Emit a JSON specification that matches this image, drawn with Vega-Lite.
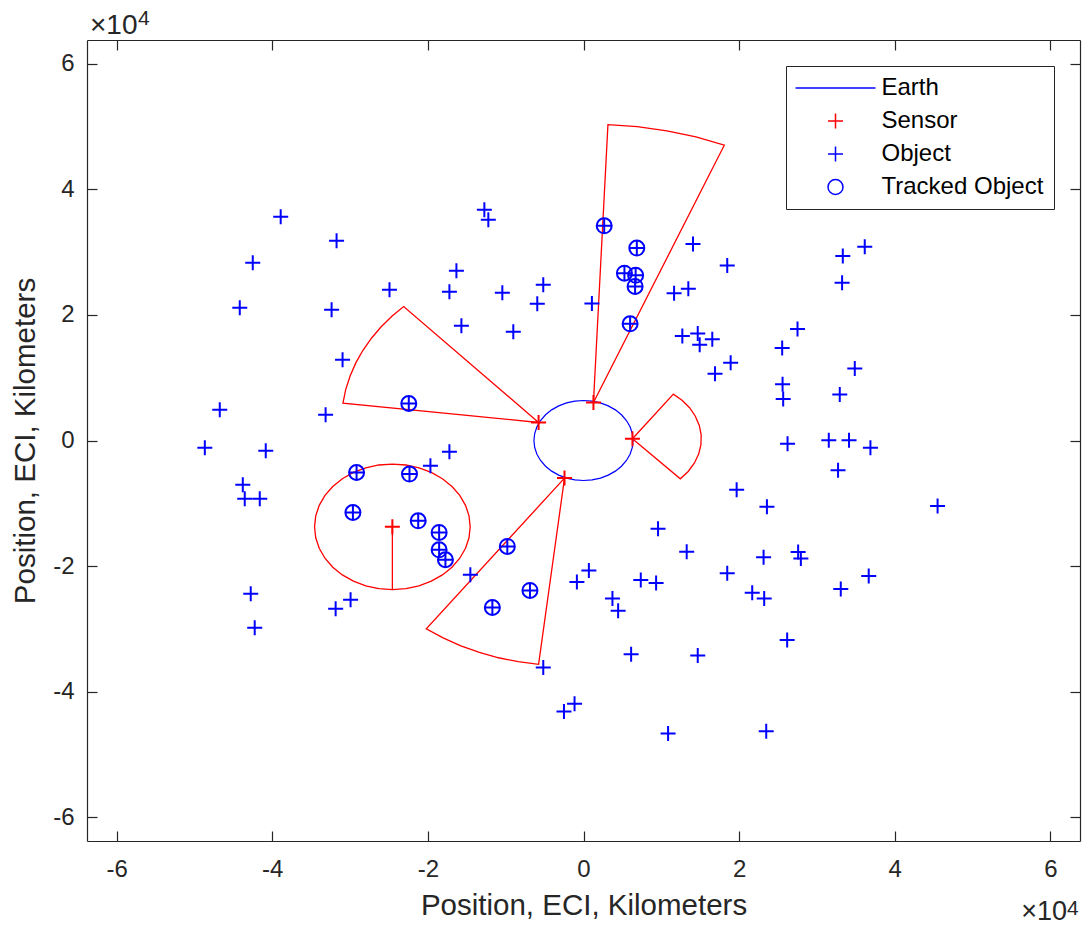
{
  "$schema": "https://vega.github.io/schema/vega-lite/v6.json",
  "width": 993,
  "height": 801,
  "autosize": "none",
  "padding": {"left": 87, "top": 40, "right": 6, "bottom": 85},
  "background": "white",
  "config": {
    "view": {"stroke": null},
    "font": "Liberation Sans",
    "axis": {
      "grid": false,
      "domainColor": "#262626",
      "domainWidth": 1.2,
      "tickColor": "#262626",
      "tickWidth": 1.2,
      "tickSize": -10,
      "labelColor": "#262626",
      "titleColor": "#262626",
      "labelFont": "Liberation Sans",
      "titleFont": "Liberation Sans",
      "labelFontSize": 24,
      "titleFontSize": 29.5,
      "titleFontWeight": "normal",
      "labelExpr": "datum.value < 0 ? '-' + abs(datum.value) : '' + datum.value"
    },
    "legend": {
      "orient": "top-right",
      "offset": 26,
      "padding": 10,
      "strokeColor": "#262626",
      "fillColor": "white",
      "labelFont": "Liberation Sans",
      "labelFontSize": 24,
      "labelColor": "black",
      "labelLimit": 400,
      "symbolSize": 225,
      "symbolOffset": 27.5,
      "labelOffset": 34,
      "rowPadding": 9,
      "symbolStrokeWidth": 1.5,
      "cornerRadius": 0
    }
  },
  "datasets": {
    "shapes": [
      {"g":"Earth","i":0,"x":0.637,"y":0},{"g":"Earth","i":1,"x":0.6273,"y":0.1106},{"g":"Earth","i":2,"x":0.5986,"y":0.2179},{"g":"Earth","i":3,"x":0.5517,"y":0.3185},{"g":"Earth","i":4,"x":0.4879,"y":0.4095},{"g":"Earth","i":5,"x":0.4095,"y":0.4879},{"g":"Earth","i":6,"x":0.3185,"y":0.5517},{"g":"Earth","i":7,"x":0.2179,"y":0.5986},{"g":"Earth","i":8,"x":0.1106,"y":0.6273},{"g":"Earth","i":9,"x":0,"y":0.637},{"g":"Earth","i":10,"x":-0.1106,"y":0.6273},{"g":"Earth","i":11,"x":-0.2179,"y":0.5986},{"g":"Earth","i":12,"x":-0.3185,"y":0.5517},{"g":"Earth","i":13,"x":-0.4095,"y":0.4879},{"g":"Earth","i":14,"x":-0.4879,"y":0.4095},{"g":"Earth","i":15,"x":-0.5517,"y":0.3185},{"g":"Earth","i":16,"x":-0.5986,"y":0.2179},{"g":"Earth","i":17,"x":-0.6273,"y":0.1106},{"g":"Earth","i":18,"x":-0.637,"y":0},{"g":"Earth","i":19,"x":-0.6273,"y":-0.1106},{"g":"Earth","i":20,"x":-0.5986,"y":-0.2179},{"g":"Earth","i":21,"x":-0.5517,"y":-0.3185},{"g":"Earth","i":22,"x":-0.4879,"y":-0.4095},{"g":"Earth","i":23,"x":-0.4095,"y":-0.4879},{"g":"Earth","i":24,"x":-0.3185,"y":-0.5517},{"g":"Earth","i":25,"x":-0.2179,"y":-0.5986},{"g":"Earth","i":26,"x":-0.1106,"y":-0.6273},{"g":"Earth","i":27,"x":0,"y":-0.637},{"g":"Earth","i":28,"x":0.1106,"y":-0.6273},{"g":"Earth","i":29,"x":0.2179,"y":-0.5986},{"g":"Earth","i":30,"x":0.3185,"y":-0.5517},{"g":"Earth","i":31,"x":0.4095,"y":-0.4879},{"g":"Earth","i":32,"x":0.4879,"y":-0.4095},{"g":"Earth","i":33,"x":0.5517,"y":-0.3185},{"g":"Earth","i":34,"x":0.5986,"y":-0.2179},{"g":"Earth","i":35,"x":0.6273,"y":-0.1106},{"g":"Earth","i":36,"x":0.637,"y":0},

      {"g":"S1","i":0,"x":-0.577,"y":0.287},{"g":"S1","i":1,"x":-2.311,"y":2.134},{"g":"S1","i":2,"x":-2.459,"y":1.982},{"g":"S1","i":3,"x":-2.6,"y":1.811},{"g":"S1","i":4,"x":-2.725,"y":1.629},{"g":"S1","i":5,"x":-2.834,"y":1.437},{"g":"S1","i":6,"x":-2.926,"y":1.236},{"g":"S1","i":7,"x":-2.999,"y":1.028},{"g":"S1","i":8,"x":-3.055,"y":0.814},{"g":"S1","i":9,"x":-3.091,"y":0.596},{"g":"S1","i":10,"x":-0.577,"y":0.287},

      {"g":"S2","i":0,"x":0.128,"y":0.605},{"g":"S2","i":1,"x":1.809,"y":4.704},{"g":"S2","i":2,"x":1.445,"y":4.835},{"g":"S2","i":3,"x":1.072,"y":4.933},{"g":"S2","i":4,"x":0.691,"y":4.999},{"g":"S2","i":5,"x":0.314,"y":5.031},{"g":"S2","i":6,"x":0.128,"y":0.605},

      {"g":"S3","i":0,"x":0.629,"y":0.027},{"g":"S3","i":1,"x":1.244,"y":-0.61},{"g":"S3","i":2,"x":1.345,"y":-0.493},{"g":"S3","i":3,"x":1.424,"y":-0.361},{"g":"S3","i":4,"x":1.48,"y":-0.217},{"g":"S3","i":5,"x":1.509,"y":-0.065},{"g":"S3","i":6,"x":1.512,"y":0.089},{"g":"S3","i":7,"x":1.488,"y":0.241},{"g":"S3","i":8,"x":1.437,"y":0.387},{"g":"S3","i":9,"x":1.363,"y":0.522},{"g":"S3","i":10,"x":1.266,"y":0.642},{"g":"S3","i":11,"x":1.155,"y":0.738},{"g":"S3","i":12,"x":0.629,"y":0.027},

      {"g":"S4","i":0,"x":-0.244,"y":-0.599},{"g":"S4","i":1,"x":-2.02,"y":-2.999},{"g":"S4","i":2,"x":-1.804,"y":-3.144},{"g":"S4","i":3,"x":-1.576,"y":-3.27},{"g":"S4","i":4,"x":-1.338,"y":-3.376},{"g":"S4","i":5,"x":-1.092,"y":-3.461},{"g":"S4","i":6,"x":-0.839,"y":-3.524},{"g":"S4","i":7,"x":-0.577,"y":-3.565},{"g":"S4","i":8,"x":-0.244,"y":-0.599},

      {"g":"S5","i":0,"x":-2.456,"y":-1.375},{"g":"S5","i":1,"x":-2.456,"y":-2.375},{"g":"S5","i":2,"x":-2.282,"y":-2.36},{"g":"S5","i":3,"x":-2.114,"y":-2.315},{"g":"S5","i":4,"x":-1.956,"y":-2.241},{"g":"S5","i":5,"x":-1.813,"y":-2.141},{"g":"S5","i":6,"x":-1.69,"y":-2.018},{"g":"S5","i":7,"x":-1.59,"y":-1.875},{"g":"S5","i":8,"x":-1.516,"y":-1.717},{"g":"S5","i":9,"x":-1.471,"y":-1.549},{"g":"S5","i":10,"x":-1.456,"y":-1.375},{"g":"S5","i":11,"x":-1.471,"y":-1.201},{"g":"S5","i":12,"x":-1.516,"y":-1.033},{"g":"S5","i":13,"x":-1.59,"y":-0.875},{"g":"S5","i":14,"x":-1.69,"y":-0.732},{"g":"S5","i":15,"x":-1.813,"y":-0.609},{"g":"S5","i":16,"x":-1.956,"y":-0.509},{"g":"S5","i":17,"x":-2.114,"y":-0.435},{"g":"S5","i":18,"x":-2.282,"y":-0.39},{"g":"S5","i":19,"x":-2.456,"y":-0.375},{"g":"S5","i":20,"x":-2.63,"y":-0.39},{"g":"S5","i":21,"x":-2.798,"y":-0.435},{"g":"S5","i":22,"x":-2.956,"y":-0.509},{"g":"S5","i":23,"x":-3.099,"y":-0.609},{"g":"S5","i":24,"x":-3.222,"y":-0.732},{"g":"S5","i":25,"x":-3.322,"y":-0.875},{"g":"S5","i":26,"x":-3.396,"y":-1.033},{"g":"S5","i":27,"x":-3.441,"y":-1.201},{"g":"S5","i":28,"x":-3.456,"y":-1.375},{"g":"S5","i":29,"x":-3.441,"y":-1.549},{"g":"S5","i":30,"x":-3.396,"y":-1.717},{"g":"S5","i":31,"x":-3.322,"y":-1.875},{"g":"S5","i":32,"x":-3.222,"y":-2.018},{"g":"S5","i":33,"x":-3.099,"y":-2.141},{"g":"S5","i":34,"x":-2.956,"y":-2.241},{"g":"S5","i":35,"x":-2.798,"y":-2.315},{"g":"S5","i":36,"x":-2.63,"y":-2.36},{"g":"S5","i":37,"x":-2.456,"y":-2.375},{"g":"S5","i":38,"x":-2.456,"y":-1.375}
    ],
    "points": [
      {"type":"Object","x":1.407,"y":3.132},{"type":"Object","x":1.847,"y":2.786},{"type":"Object","x":3.332,"y":2.939},{"type":"Object","x":3.614,"y":3.087},{"type":"Object","x":3.323,"y":2.512},{"type":"Object","x":1.164,"y":2.346},{"type":"Object","x":1.347,"y":2.418},{"type":"Object","x":0.108,"y":2.182},{"type":"Object","x":1.27,"y":1.666},{"type":"Object","x":1.468,"y":1.704},{"type":"Object","x":1.493,"y":1.524},{"type":"Object","x":1.655,"y":1.612},{"type":"Object","x":1.891,"y":1.239},{"type":"Object","x":1.69,"y":1.062},{"type":"Object","x":2.75,"y":1.776},{"type":"Object","x":2.553,"y":1.475},{"type":"Object","x":3.486,"y":1.145},{"type":"Object","x":2.558,"y":0.898},{"type":"Object","x":2.566,"y":0.663},{"type":"Object","x":3.293,"y":0.734},{"type":"Object","x":2.622,"y":-0.051},{"type":"Object","x":3.152,"y":0.005},{"type":"Object","x":3.412,"y":0.005},{"type":"Object","x":3.687,"y":-0.116},{"type":"Object","x":3.271,"y":-0.473},{"type":"Object","x":1.968,"y":-0.785},{"type":"Object","x":2.357,"y":-1.054},{"type":"Object","x":4.55,"y":-1.043},{"type":"Object","x":0.958,"y":-1.405},{"type":"Object","x":1.326,"y":-1.773},{"type":"Object","x":2.314,"y":-1.861},{"type":"Object","x":2.758,"y":-1.778},{"type":"Object","x":2.793,"y":-1.878},{"type":"Object","x":0.069,"y":-2.069},{"type":"Object","x":-0.085,"y":-2.256},{"type":"Object","x":0.736,"y":-2.222},{"type":"Object","x":0.933,"y":-2.271},{"type":"Object","x":1.847,"y":-2.114},{"type":"Object","x":3.665,"y":-2.157},{"type":"Object","x":3.306,"y":-2.365},{"type":"Object","x":2.168,"y":-2.426},{"type":"Object","x":2.322,"y":-2.518},{"type":"Object","x":0.372,"y":-2.518},{"type":"Object","x":0.445,"y":-2.711},{"type":"Object","x":2.617,"y":-3.178},{"type":"Object","x":0.612,"y":-3.407},{"type":"Object","x":1.468,"y":-3.425},{"type":"Object","x":-0.115,"y":-4.193},{"type":"Object","x":-0.251,"y":-4.318},{"type":"Object","x":1.087,"y":-4.669},{"type":"Object","x":2.348,"y":-4.631},
      {"type":"Object","x":-3.891,"y":3.563},{"type":"Object","x":-3.173,"y":3.181},{"type":"Object","x":-4.25,"y":2.831},{"type":"Object","x":-4.417,"y":2.114},{"type":"Object","x":-3.237,"y":2.082},{"type":"Object","x":-2.493,"y":2.401},{"type":"Object","x":-3.096,"y":1.286},{"type":"Object","x":-4.674,"y":0.489},{"type":"Object","x":-3.314,"y":0.409},{"type":"Object","x":-4.866,"y":-0.116},{"type":"Object","x":-4.083,"y":-0.164},{"type":"Object","x":-4.378,"y":-0.706},{"type":"Object","x":-4.353,"y":-0.929},{"type":"Object","x":-4.16,"y":-0.929},{"type":"Object","x":-4.276,"y":-2.442},{"type":"Object","x":-4.225,"y":-2.983},{"type":"Object","x":-3.185,"y":-2.681},{"type":"Object","x":-2.993,"y":-2.537},{"type":"Object","x":-1.454,"y":-2.139},{"type":"Object","x":-1.274,"y":3.675},{"type":"Object","x":-1.223,"y":3.516},{"type":"Object","x":-1.633,"y":2.703},{"type":"Object","x":-1.723,"y":2.369},{"type":"Object","x":-1.043,"y":2.353},{"type":"Object","x":-1.569,"y":1.827},{"type":"Object","x":-0.902,"y":1.732},{"type":"Object","x":-0.517,"y":2.48},{"type":"Object","x":-0.594,"y":2.177},{"type":"Object","x":-1.723,"y":-0.18},{"type":"Object","x":-1.967,"y":-0.403},{"type":"Object","x":-0.517,"y":-3.616},
      {"type":"Object","x":-2.245,"y":0.589},{"type":"Object","x":-2.916,"y":-0.51},{"type":"Object","x":-2.236,"y":-0.535},{"type":"Object","x":-2.963,"y":-1.147},{"type":"Object","x":-2.124,"y":-1.279},{"type":"Object","x":-1.855,"y":-1.465},{"type":"Object","x":-1.855,"y":-1.741},{"type":"Object","x":-1.774,"y":-1.9},{"type":"Object","x":-0.979,"y":-1.688},{"type":"Object","x":-0.688,"y":-2.389},{"type":"Object","x":-1.171,"y":-2.66},{"type":"Object","x":0.266,"y":3.42},{"type":"Object","x":0.685,"y":3.065},{"type":"Object","x":0.526,"y":2.666},{"type":"Object","x":0.67,"y":2.631},{"type":"Object","x":0.663,"y":2.455},{"type":"Object","x":0.599,"y":1.859},
      {"type":"Tracked Object","x":-2.245,"y":0.589},{"type":"Tracked Object","x":-2.916,"y":-0.51},{"type":"Tracked Object","x":-2.236,"y":-0.535},{"type":"Tracked Object","x":-2.963,"y":-1.147},{"type":"Tracked Object","x":-2.124,"y":-1.279},{"type":"Tracked Object","x":-1.855,"y":-1.465},{"type":"Tracked Object","x":-1.855,"y":-1.741},{"type":"Tracked Object","x":-1.774,"y":-1.9},{"type":"Tracked Object","x":-0.979,"y":-1.688},{"type":"Tracked Object","x":-0.688,"y":-2.389},{"type":"Tracked Object","x":-1.171,"y":-2.66},{"type":"Tracked Object","x":0.266,"y":3.42},{"type":"Tracked Object","x":0.685,"y":3.065},{"type":"Tracked Object","x":0.526,"y":2.666},{"type":"Tracked Object","x":0.67,"y":2.631},{"type":"Tracked Object","x":0.663,"y":2.455},{"type":"Tracked Object","x":0.599,"y":1.859},
      {"type":"Sensor","x":-0.577,"y":0.287},{"type":"Sensor","x":0.128,"y":0.605},{"type":"Sensor","x":0.629,"y":0.027},{"type":"Sensor","x":-0.244,"y":-0.599},{"type":"Sensor","x":-2.456,"y":-1.375}
    ]
  },
  "layer": [
    {
      "data": {"name": "shapes"},
      "transform": [{"filter": "datum.g === 'Earth'"}],
      "mark": {"type": "line", "color": "#0000ff", "strokeWidth": 1.2},
      "encoding": {
        "x": {"field": "x", "type": "quantitative", "scale": {"domain": [-6.38, 6.38], "nice": false, "zero": false},
              "axis": {"values": [-6, -4, -2, 0, 2, 4, 6], "title": "Position, ECI, Kilometers", "labelPadding": 26, "titlePadding": 10}},
        "y": {"field": "y", "type": "quantitative", "scale": {"domain": [-6.38, 6.38], "nice": false, "zero": false},
              "axis": {"values": [-6, -4, -2, 0, 2, 4, 6], "title": "Position, ECI, Kilometers", "labelPadding": 23, "titlePadding": 12}},
        "order": {"field": "i", "type": "quantitative"}
      }
    },
    {
      "data": {"name": "shapes"},
      "transform": [{"filter": "datum.g !== 'Earth'"}],
      "mark": {"type": "line", "color": "#ff0000", "strokeWidth": 1.3},
      "encoding": {
        "x": {"field": "x", "type": "quantitative", "axis": null},
        "y": {"field": "y", "type": "quantitative", "axis": null},
        "detail": {"field": "g"},
        "order": {"field": "i", "type": "quantitative"}
      }
    },
    {
      "data": {"name": "points"},
      "mark": {"type": "point", "filled": false, "size": 225, "strokeWidth": 2, "opacity": 1},
      "encoding": {
        "x": {"field": "x", "type": "quantitative", "axis": null},
        "y": {"field": "y", "type": "quantitative", "axis": null},
        "color": {"field": "type", "type": "nominal",
                  "scale": {"domain": ["Earth", "Sensor", "Object", "Tracked Object"], "range": ["#0000ff", "#ff0000", "#0000ff", "#0000ff"]},
                  "legend": {"title": null}},
        "shape": {"field": "type", "type": "nominal",
                  "scale": {"domain": ["Earth", "Sensor", "Object", "Tracked Object"], "range": ["M-5.33,0H5.33", "M-1,0H1M0,-1V1", "M-1,0H1M0,-1V1", "circle"]},
                  "legend": {"title": null}}
      }
    },
    {
      "data": {"values": [{}]},
      "mark": {"type": "text", "text": "×10", "align": "left", "baseline": "alphabetic", "dx": 3, "dy": -6, "fontSize": 28, "color": "#262626", "font": "Liberation Sans"},
      "encoding": {
        "x": {"datum": -6.38, "type": "quantitative", "axis": {"orient": "top", "values": [-6, -4, -2, 0, 2, 4, 6], "labels": false, "title": null}},
        "y": {"datum": 6.38, "type": "quantitative", "axis": {"orient": "right", "values": [-6, -4, -2, 0, 2, 4, 6], "labels": false, "title": null}}
      }
    },
    {
      "data": {"values": [{}]},
      "mark": {"type": "text", "text": "4", "align": "left", "baseline": "alphabetic", "dx": 51, "dy": -15, "fontSize": 21, "color": "#262626", "font": "Liberation Sans"},
      "encoding": {
        "x": {"datum": -6.38, "type": "quantitative", "axis": null},
        "y": {"datum": 6.38, "type": "quantitative", "axis": null}
      }
    },
    {
      "data": {"values": [{}]},
      "mark": {"type": "text", "text": "×10", "align": "right", "baseline": "alphabetic", "dx": -13, "dy": 79, "fontSize": 27, "color": "#262626", "font": "Liberation Sans"},
      "encoding": {
        "x": {"datum": 6.38, "type": "quantitative", "axis": null},
        "y": {"datum": -6.38, "type": "quantitative", "axis": null}
      }
    },
    {
      "data": {"values": [{}]},
      "mark": {"type": "text", "text": "4", "align": "left", "baseline": "alphabetic", "dx": -13, "dy": 74, "fontSize": 21, "color": "#262626", "font": "Liberation Sans"},
      "encoding": {
        "x": {"datum": 6.38, "type": "quantitative", "axis": null},
        "y": {"datum": -6.38, "type": "quantitative", "axis": null}
      }
    }
  ],
  "resolve": {"axis": {"x": "independent", "y": "independent"}}
}
